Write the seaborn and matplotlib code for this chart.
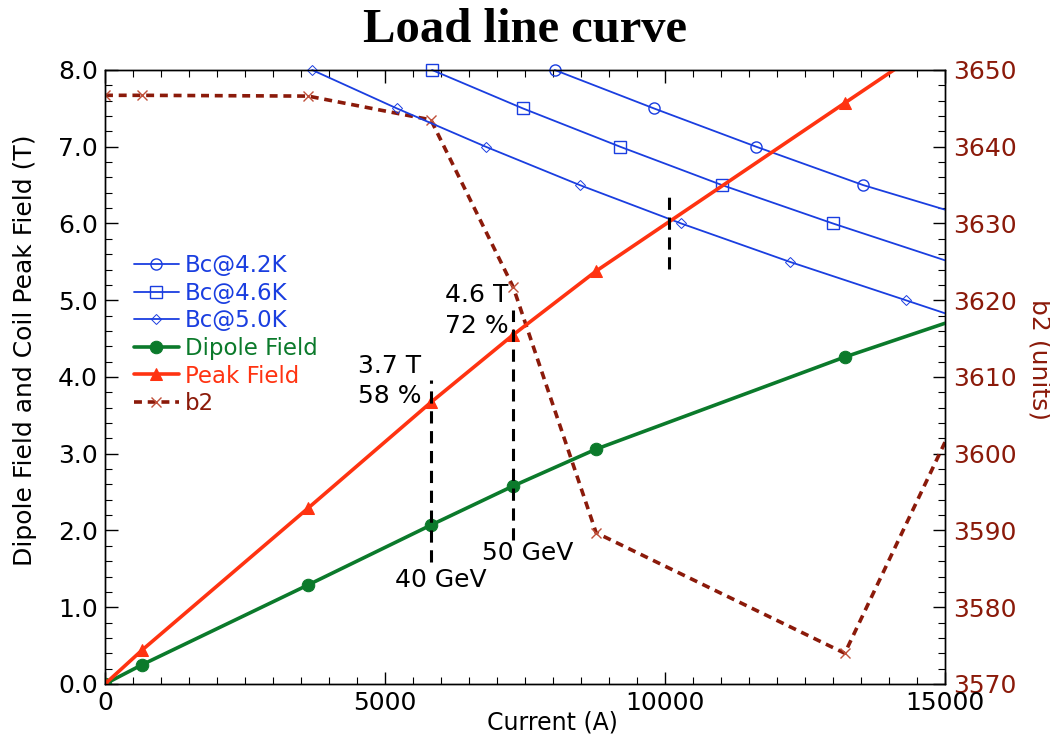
import matplotlib
matplotlib.use("Agg")
import matplotlib.pyplot as plt
import seaborn as sns
from matplotlib.ticker import MultipleLocator, FormatStrFormatter

# ---------------- data ----------------
current = [0, 660, 3625, 5820, 7290, 8770, 13210, 15000]
dipole_field = [0.0, 0.25, 1.29, 2.07, 2.58, 3.06, 4.26, 4.70]
peak_field = [0.0, 0.44, 2.29, 3.67, 4.55, 5.38, 7.57, 8.45]
b2_units = [3646.7, 3646.7, 3646.6, 3643.5, 3621.7, 3589.7, 3574.0, 3601.5]

bc42_x = [8030, 9800, 11630, 13540, 15000]
bc42_y = [8.0, 7.5, 7.0, 6.5, 6.18]
bc46_x = [5840, 7460, 9200, 11020, 13000, 15000]
bc46_y = [8.0, 7.5, 7.0, 6.5, 6.0, 5.52]
bc50_x = [3700, 5210, 6800, 8480, 10290, 12230, 14300, 15000]
bc50_y = [8.0, 7.5, 7.0, 6.5, 6.0, 5.5, 5.0, 4.83]

marker_x = [5820, 7290, 10070]
marker_lo = [1.59, 1.88, 5.41]
marker_hi = [3.96, 4.87, 6.41]

annot_texts = ["3.7 T", "58 %", "4.6 T", "72 %", "40 GeV", "50 GeV"]
annot_x = [4520, 4520, 6070, 6070, 5180, 6730]
annot_y = [4.05, 3.66, 4.98, 4.57, 1.26, 1.62]

# ---------------- style ----------------
sns.set_style("ticks")
plt.rcParams["font.family"] = ["DejaVu Sans"]
plt.rcParams["text.color"] = "black"
plt.rcParams["axes.labelcolor"] = "black"
plt.rcParams["xtick.color"] = "black"
plt.rcParams["ytick.color"] = "black"
plt.rcParams["axes.edgecolor"] = "black"

BLUE = "#1a3ee0"
GREEN = "#0b7a2b"
RED = "#ff3311"
DRED = "#8b1a0a"

fig = plt.figure(figsize=(10.5, 7.36), dpi=100)
ax = fig.add_axes([0.1, 0.0707, 0.8, 0.8342])
ax2 = ax.twinx()

# Bc lines
sns.lineplot(x=bc42_x, y=bc42_y, ax=ax, color=BLUE, lw=1.3, marker="o", markersize=8,
             markerfacecolor="none", markeredgecolor=BLUE, markeredgewidth=1.0,
             sort=False, estimator=None, markevery=[0, 1, 2, 3], clip_on=False)
l42 = ax.lines[-1]
sns.lineplot(x=bc46_x, y=bc46_y, ax=ax, color=BLUE, lw=1.3, marker="s", markersize=9,
             markerfacecolor="none", markeredgecolor=BLUE, markeredgewidth=1.0,
             sort=False, estimator=None, markevery=[0, 1, 2, 3, 4], clip_on=False)
l46 = ax.lines[-1]
sns.lineplot(x=bc50_x, y=bc50_y, ax=ax, color=BLUE, lw=1.3, marker="D", markersize=5.5,
             markerfacecolor="none", markeredgecolor=BLUE, markeredgewidth=0.7,
             sort=False, estimator=None, markevery=[0, 1, 2, 3, 4, 5, 6], clip_on=False)
l50 = ax.lines[-1]

# Dipole and peak field
sns.lineplot(x=current, y=dipole_field, ax=ax, color=GREEN, lw=2.6, marker="o", markersize=9,
             markeredgecolor=GREEN, markerfacecolor=GREEN,
             sort=False, estimator=None, markevery=[0, 1, 2, 3, 4, 5, 6])
ldip = ax.lines[-1]
sns.lineplot(x=current, y=peak_field, ax=ax, color=RED, lw=2.6, marker="^", markersize=8,
             markeredgecolor=RED, markerfacecolor=RED,
             sort=False, estimator=None, markevery=[0, 1, 2, 3, 4, 5, 6])
lpeak = ax.lines[-1]

# vertical dashed markers
ax.vlines(marker_x, marker_lo, marker_hi, colors="black", linestyles=(0, (4, 2.5)), lw=2.2)

# b2 on right axis
sns.lineplot(x=current, y=b2_units, ax=ax2, color=DRED, lw=2.6, marker="x", markersize=7,
             markeredgecolor="#c0503a", markeredgewidth=1.0,
             sort=False, estimator=None, markevery=[0, 1, 2, 3, 4, 5, 6])
lb2 = ax2.lines[-1]
lb2.set_linestyle((0, (2.2, 1.6)))

# annotations
for t, x, y in zip(annot_texts, annot_x, annot_y):
    ax.text(x, y, t, fontsize=18, ha="left", va="baseline", color="black")

# axes limits / ticks
ax.set_xlim(0, 15000)
ax.set_ylim(0, 8)
ax2.set_ylim(3570, 3650)

ax.xaxis.set_major_locator(MultipleLocator(5000))
ax.xaxis.set_minor_locator(MultipleLocator(500))
ax.yaxis.set_major_locator(MultipleLocator(1.0))
ax.yaxis.set_minor_locator(MultipleLocator(0.2))
ax.yaxis.set_major_formatter(FormatStrFormatter("%.1f"))
ax2.yaxis.set_major_locator(MultipleLocator(10))
ax2.yaxis.set_minor_locator(MultipleLocator(2))

ax.tick_params(axis="both", which="major", direction="in", length=9, width=1.0,
               labelsize=18, top=True, right=False, pad=5, colors="black")
ax.tick_params(axis="both", which="minor", direction="in", length=5, width=0.8,
               top=True, right=False, colors="black")
ax2.tick_params(axis="y", which="major", direction="in", length=9, width=1.0,
                labelsize=18, color="black", labelcolor=DRED, pad=6)
ax2.tick_params(axis="y", which="minor", direction="in", length=5, width=0.8, color="black")

for a in (ax, ax2):
    for s in a.spines.values():
        s.set_visible(True)
        s.set_color("black")
        s.set_linewidth(1.0)

ax.set_xlabel("Current (A)", fontsize=17, color="black")
ax.xaxis.set_label_coords(0.533, -0.044)
ax.set_ylabel("Dipole Field and Coil Peak Field (T)", fontsize=18, color="black")
ax.yaxis.set_label_coords(-0.081, 0.544)
ax2.set_ylabel("b2 (units)", fontsize=18, color=DRED, rotation=270)
ax2.yaxis.set_label_coords(1.127, 0.529)

ax.set_title("Load line curve", fontsize=35, fontweight="bold", color="black",
             family=["Liberation Serif", "DejaVu Serif"], pad=20)

# legend
handles = [l42, l46, l50, ldip, lpeak, lb2]
labels = ["Bc@4.2K", "Bc@4.6K", "Bc@5.0K", "Dipole Field", "Peak Field", "b2"]
leg = ax.legend(handles, labels, loc="upper left", bbox_to_anchor=(0.034, 0.70),
                frameon=False, fontsize=16.5, labelcolor="linecolor",
                handlelength=2.0, handletextpad=0.25, labelspacing=0.2,
                borderpad=0, borderaxespad=0)
leg.set_zorder(10)

ax.set_zorder(ax2.get_zorder() + 1)
ax.patch.set_visible(False)

fig.savefig("out.png", dpi=100, facecolor="white")
